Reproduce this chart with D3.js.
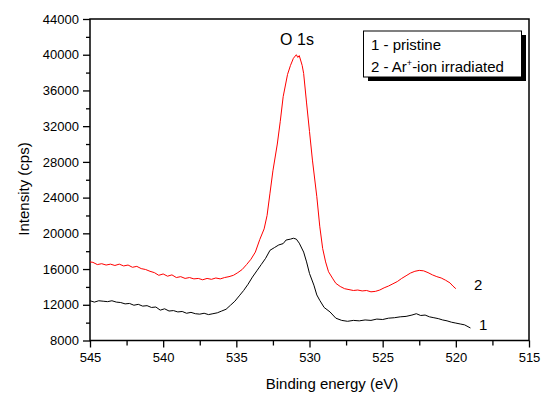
<!DOCTYPE html>
<html>
<head>
<meta charset="utf-8">
<script src="https://cdn.jsdelivr.net/npm/d3@7"></script>
<style>
  html, body { margin: 0; padding: 0; background: #fff; }
  svg text { font-family: "Liberation Sans", Arial, sans-serif; fill: #000; }
</style>
</head>
<body>
<svg id="chart" width="550" height="399"></svg>
<script>
// curve 1 - pristine (black)
var energy1 = [545.0,544.7,544.4,544.1,543.8,543.5,543.2,542.9,542.6,542.3,542.0,541.7,541.4,541.1,540.8,540.5,540.2,539.9,539.6,539.3,539.0,538.7,538.4,538.1,537.8,537.5,537.2,536.9,536.6,536.3,536.0,535.7,535.4,535.1,534.8,534.5,534.2,533.9,533.6,533.3,533.0,532.7,532.4,532.1,531.8,531.6,531.3,531.1,530.9,530.7,530.4,530.2,530.0,529.7,529.5,529.3,529.0,528.6,528.2,527.8,527.4,527.0,526.6,526.2,525.8,525.4,525.0,524.6,524.2,523.8,523.4,523.0,522.7,522.4,522.1,521.8,521.5,521.2,520.9,520.6,520.3,520.0,519.7,519.4,519.0];
var counts1 = [12450,12300,12450,12400,12350,12450,12300,12250,12100,12150,11950,12050,11850,11900,11700,11750,11400,11550,11300,11350,11200,11250,11050,11150,11000,10950,11050,10900,11000,11100,11300,11500,11950,12400,13000,13600,14300,15100,15800,16500,17200,18100,18400,18700,18850,19250,19350,19450,19350,18900,17900,16800,15500,14200,13100,12500,11700,11200,10500,10250,10150,10250,10200,10300,10250,10400,10350,10500,10550,10650,10700,10850,11000,10800,10850,10650,10550,10450,10300,10200,10050,9950,9850,9750,9400];

// curve 2 - Ar+-ion irradiated (red)
var energy2 = [545.0,544.8,544.5,544.2,543.9,543.6,543.3,543.0,542.7,542.4,542.1,541.8,541.5,541.2,540.9,540.6,540.3,540.0,539.7,539.4,539.1,538.8,538.5,538.2,537.9,537.6,537.3,537.0,536.7,536.4,536.1,535.8,535.5,535.2,534.9,534.6,534.3,534.0,533.7,533.4,533.1,532.9,532.7,532.5,532.2,532.0,531.8,531.5,531.3,531.1,530.9,530.8,530.7,530.5,530.4,530.2,530.0,529.8,529.5,529.3,529.1,528.9,528.7,528.4,528.2,527.9,527.6,527.3,527.0,526.7,526.4,526.1,525.8,525.5,525.2,524.9,524.6,524.3,524.0,523.7,523.4,523.1,522.8,522.5,522.2,521.9,521.6,521.3,521.0,520.7,520.4,520.2,520.0];
var counts2 = [16800,16750,16500,16600,16450,16550,16400,16550,16350,16450,16200,16300,16050,15950,15750,15600,15300,15450,15200,15350,15050,15150,14950,15050,14900,14950,14800,14950,14850,15000,14900,15050,15150,15300,15600,15950,16500,17100,17900,19300,20500,22000,24500,27000,30000,32500,35300,37800,38800,39600,40000,39700,39900,38800,37900,34600,31400,28200,24100,20800,18300,16800,15700,14900,14400,14050,13800,13700,13600,13650,13550,13600,13450,13500,13650,13900,14100,14350,14600,14950,15250,15550,15750,15850,15800,15600,15350,15150,15000,14750,14450,14100,13800];

var xTicks = [545, 540, 535, 530, 525, 520, 515];
var yTicks = [8000, 12000, 16000, 20000, 24000, 28000, 32000, 36000, 40000, 44000];
var legendLines = ["1 - pristine", "2 - Ar", "+", "-ion irradiated"];

var plotLeft = 90, plotRight = 529, plotTop = 19, plotBottom = 340.5;

var svg = d3.select("#chart");
svg.append("rect").attr("width", 550).attr("height", 399).attr("fill", "#fff");

var x = d3.scaleLinear().domain([545, 515]).range([plotLeft, plotRight]);
var y = d3.scaleLinear().domain([8000, 44000]).range([plotBottom, plotTop]);

// minor ticks
var xMinor = d3.range(545, 514, -2.5).filter(function (v) { return xTicks.indexOf(v) < 0; });
var yMinor = d3.range(8000, 44001, 2000).filter(function (v) { return yTicks.indexOf(v) < 0; });

svg.append("g")
  .attr("transform", "translate(0," + plotBottom + ")")
  .call(d3.axisBottom(x).tickValues(xMinor).tickSize(5).tickFormat(""))
  .call(function (g) { g.select(".domain").remove(); g.selectAll("line").attr("stroke-width", 1.3); });
svg.append("g")
  .attr("transform", "translate(" + plotLeft + ",0)")
  .call(d3.axisLeft(y).tickValues(yMinor).tickSize(4).tickFormat(""))
  .call(function (g) { g.select(".domain").remove(); g.selectAll("line").attr("stroke-width", 1.3); });

// major ticks
var xAxis = svg.append("g")
  .attr("transform", "translate(0," + plotBottom + ")")
  .call(d3.axisBottom(x).tickValues(xTicks).tickSize(7).tickPadding(5).tickFormat(d3.format("d")));
xAxis.select(".domain").remove();
xAxis.selectAll("line").attr("stroke-width", 1.3);
xAxis.selectAll("text").attr("font-size", "13px").attr("font-family", "Liberation Sans, Arial, sans-serif");

var yAxis = svg.append("g")
  .attr("transform", "translate(" + plotLeft + ",0)")
  .call(d3.axisLeft(y).tickValues(yTicks).tickSize(7).tickPadding(4).tickFormat(d3.format("d")));
yAxis.select(".domain").remove();
yAxis.selectAll("line").attr("stroke-width", 1.3);
yAxis.selectAll("text").attr("font-size", "13px").attr("font-family", "Liberation Sans, Arial, sans-serif");

// frame
svg.append("rect")
  .attr("x", plotLeft).attr("y", plotTop)
  .attr("width", plotRight - plotLeft).attr("height", plotBottom - plotTop)
  .attr("fill", "none").attr("stroke", "#000").attr("stroke-width", 1.5);

var line = d3.line()
  .x(function (d) { return x(d[0]); })
  .y(function (d) { return y(d[1]); });

svg.append("path")
  .datum(d3.zip(energy2, counts2))
  .attr("d", line).attr("fill", "none").attr("stroke", "#ff0000").attr("stroke-width", 1);
svg.append("path")
  .datum(d3.zip(energy1, counts1))
  .attr("d", line).attr("fill", "none").attr("stroke", "#000").attr("stroke-width", 1);

// curve labels
svg.append("text").attr("x", 474).attr("y", 290).attr("font-size", "15px").text("2");
svg.append("text").attr("x", 479).attr("y", 330).attr("font-size", "15px").text("1");

svg.append("text").attr("x", 297).attr("y", 45).attr("text-anchor", "middle")
  .attr("font-size", "16px").text("O 1s");

// axis titles
svg.append("text").attr("x", 332).attr("y", 389).attr("text-anchor", "middle")
  .attr("font-size", "15px").text("Binding energy (eV)");
svg.append("text").attr("transform", "translate(29,189) rotate(-90)")
  .attr("text-anchor", "middle").attr("font-size", "15px").text("Intensity (cps)");

// legend
var lg = svg.append("g");
lg.append("rect").attr("x", 368).attr("y", 35).attr("width", 158).attr("height", 46).attr("fill", "#000");
lg.append("rect").attr("x", 363.5).attr("y", 31).attr("width", 158).attr("height", 46)
  .attr("fill", "#fff").attr("stroke", "#000").attr("stroke-width", 1);
lg.append("text").attr("x", 371).attr("y", 50).attr("font-size", "15px").text(legendLines[0]);
var t2 = lg.append("text").attr("x", 371).attr("y", 72).attr("font-size", "15px");
t2.append("tspan").text(legendLines[1]);
t2.append("tspan").attr("dy", -6).attr("font-size", "9px").text(legendLines[2]);
t2.append("tspan").attr("dy", 6).text(legendLines[3]);
</script>
</body>
</html>
